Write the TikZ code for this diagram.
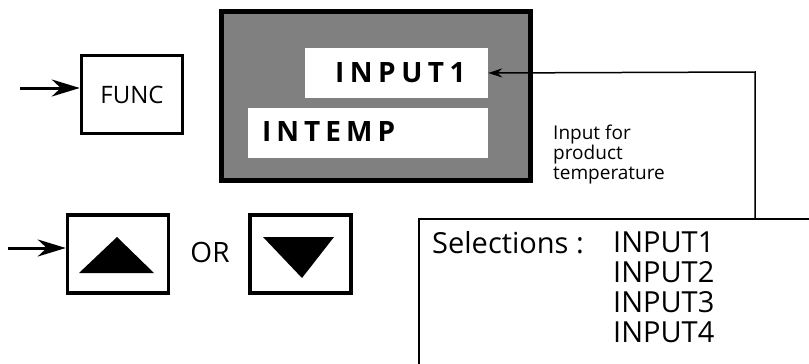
\documentclass[tikz,border=0pt]{standalone}
\usepackage{fontspec}
\setmainfont{Open Sans}
\usetikzlibrary{arrows.meta}
\definecolor{dispgray}{gray}{0.5}
\begin{document}
\begin{tikzpicture}[x=1pt,y=-1pt,
  keybox/.style={draw, line width=3.5pt, minimum width=101pt, minimum height=78pt, inner sep=0pt},
  fatarrow/.style={line width=3pt, -{Stealth[length=28pt,width=17pt,inset=9pt]}},
  thinline/.style={line width=1.5pt},
  whitebox/.style={fill=white, inner sep=0pt},
  disptext/.style={font=\fontsize{28}{30}\selectfont\bfseries, inner sep=0pt, anchor=base west},
  bigtext/.style={font=\fontsize{29}{29.7}\selectfont, inner sep=0pt}]
\clip (0,0) rectangle (809,364);
\fill[white] (0,0) rectangle (809,364);

% FUNC key
\node[keybox, font=\fontsize{24}{28}\selectfont] (func) at (132,94.5) {FUNC};
\coordinate (fa) at (20,88);
\draw[fatarrow] (fa) -- (fa -| func.west);

% up / down keys
\node[keybox] (up) at (118,254) {};
\node[keybox] (down) at (300.5,254) {};
\fill[shift={(up.center)}] (-39,19) -- (36,19) -- (-1,-17) -- cycle;
\fill[shift={(down.center)}] (-37.5,-17) -- (33.5,-17) -- (1.5,24) -- cycle;
\coordinate (ua) at (8,248);
\draw[fatarrow] (ua) -- (ua -| up.west);
\node[font=\fontsize{28}{30}\selectfont, inner sep=0pt] (or) at (210,252) {OR};

% display
\node[draw=black, line width=5pt, fill=dispgray, minimum width=309pt, minimum height=169pt, inner sep=0pt] (disp) at (376,96) {};
\node[whitebox, minimum width=183pt, minimum height=50pt] (in1box) at (396.5,73) {};
\node[whitebox, minimum width=240pt, minimum height=50pt] (intbox) at (368,133) {};
\node[disptext] (in1txt) at (335,82) {I\kern5.5pt N\kern5.5pt P\kern5.5pt U\kern5.5pt T\kern5.5pt 1};
\node[disptext] (inttxt) at (262,141) {I\kern5pt N\kern5pt T\kern5pt E\kern5pt M\kern5pt P};

% note
\node[anchor=north west, align=left, inner sep=0pt, font=\fontsize{19}{20}\selectfont] (note) at (553,125) {Input for\\product\\temperature};

% selections box
\node[draw, thinline, minimum width=500pt, minimum height=300pt, anchor=north west, inner sep=0pt] (sel) at (418,218) {};
\coordinate (corner) at (755,72);
\draw[thinline, -{Stealth[length=14pt,width=9pt]}] (sel.north -| corner) -- (corner) -- (in1box.east);
\node[bigtext, anchor=north west] (seltxt) at (432,231) {Selections :};
\node[bigtext, anchor=north west, align=left] (opts) at (613,232) {INPUT1\\INPUT2\\INPUT3\\INPUT4};
\end{tikzpicture}
\end{document}
